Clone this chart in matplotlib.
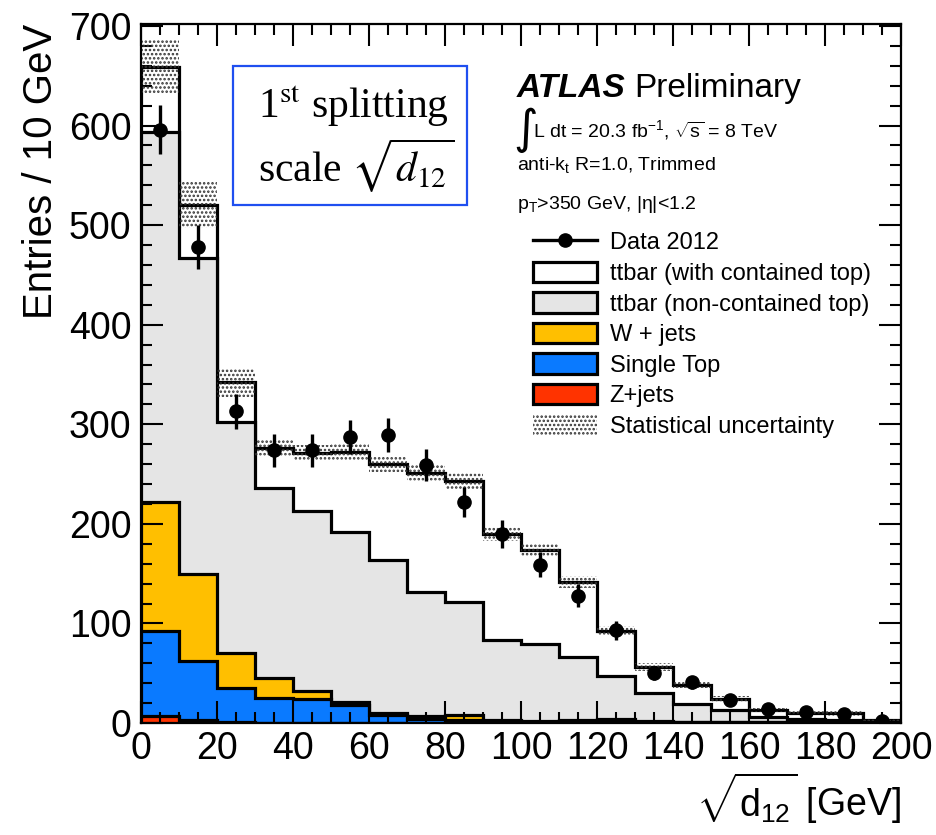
import numpy as np
import matplotlib
matplotlib.use("Agg")
import matplotlib.pyplot as plt
from matplotlib.patches import Patch, Rectangle
from matplotlib.lines import Line2D
from matplotlib.ticker import MultipleLocator

plt.rcParams['font.family'] = ['Liberation Sans', 'DejaVu Sans']
plt.rcParams['mathtext.fontset'] = 'custom'
plt.rcParams['mathtext.rm'] = 'Liberation Sans'
plt.rcParams['mathtext.it'] = 'Liberation Sans:italic'
plt.rcParams['mathtext.bf'] = 'Liberation Sans:bold'
plt.rcParams['hatch.linewidth'] = 1.2

# sqrt(d12) in 10 GeV bins
bin_edges = np.arange(0, 201, 10)

data_2012 = [596, 478, 313, 274, 274, 287, 289, 259, 222, 190,
             159, 128, 93, 50, 41, 23, 14, 11, 9, 2]

# MC components, bottom of the stack first
zjets = [7, 3, 1, 0.5, 0.5, 0.5, 0.3, 0.3, 0.3, 0.2,
         0.2, 0.2, 0.2, 0.1, 0.1, 0.1, 0.1, 0.1, 0.1, 0.1]
single_top = [85, 59, 34, 25, 24, 18, 8, 4, 3, 1.5,
              1, 1.5, 1.5, 1, 0.5, 0.5, 0.5, 0.3, 0.3, 0.2]
wjets = [130, 88, 35, 20, 8, 3, 2, 3, 5, 1,
         1, 1, 2, 1, 0.5, 0.5, 0.5, 0.5, 1, 0.5]
ttbar_noncontained = [372, 317, 232, 191, 180, 170, 153, 124, 113, 81,
                      77, 64, 43, 28, 18, 12, 5, 3, 1.6, 1.2]
ttbar_contained = [65, 53, 40, 40, 59, 81, 97, 120, 122, 106,
                   95, 75, 46, 26, 19, 11, 7, 6, 7, 1]
mc_stat_err = [27, 23, 15, 9, 8, 8, 8, 8, 8, 7,
               7, 6, 5, 4, 3, 3, 2, 2, 3, 1]

components = [zjets, single_top, wjets, ttbar_noncontained, ttbar_contained]
fill_colors = ['#ff3300', '#0a7aff', '#ffbf00', '#e5e5e5', 'white']
labels = ['Z+jets', 'Single Top', 'W + jets',
          'ttbar (non-contained top)', 'ttbar (with contained top)']

stack = np.cumsum(np.array(components, dtype=float), axis=0)
total = stack[-1]
centers = 0.5 * (bin_edges[:-1] + bin_edges[1:])
data = np.array(data_2012, dtype=float)

fig = plt.figure(figsize=(9.37, 8.35), dpi=100)
ax = fig.add_axes([141 / 937, 1 - 723 / 835, 760 / 937, 699 / 835])

# draw stack from the top down so each layer covers the one above it
for i in reversed(range(len(components))):
    ax.stairs(stack[i], bin_edges, fill=True, color=fill_colors[i], zorder=1 + (4 - i) * 0.1)
    ax.stairs(stack[i], bin_edges, color='k', lw=2.3, zorder=1.05 + (4 - i) * 0.1)

ax.bar(bin_edges[:-1], 2 * np.array(mc_stat_err), bottom=total - np.array(mc_stat_err),
       width=10, align='edge', fill=False, hatch='....', lw=0, edgecolor='0.2', zorder=2)

ax.errorbar(centers, data, yerr=np.sqrt(data), fmt='o', color='k', ms=9.5,
            elinewidth=2.4, capsize=0, zorder=3)

ax.set_xlim(0, 200)
ax.set_ylim(0, 702)
ax.xaxis.set_major_locator(MultipleLocator(20))
ax.xaxis.set_minor_locator(MultipleLocator(5))
ax.yaxis.set_major_locator(MultipleLocator(100))
ax.yaxis.set_minor_locator(MultipleLocator(20))
ax.tick_params(which='both', direction='in', top=True, right=True, width=1.5)
ax.tick_params(which='major', length=16, labelsize=27)
ax.tick_params(which='minor', length=8)
ax.tick_params(axis='x', pad=6)
ax.tick_params(axis='y', pad=7)
for s in ax.spines.values():
    s.set_linewidth(1.6)

ax.set_ylabel('Entries / 10 GeV', fontsize=29, loc='top', labelpad=6)
ax.set_xlabel(r'$\sqrt{\mathrm{d}_{12}}$ [GeV]', fontsize=27, loc='right', labelpad=2)

# labels
def ax_xy(px, py):
    return (px - 141) / 760, (723 - py) / 699

tx, ty = ax_xy(517, 97)
ax.text(tx, ty, 'ATLAS', transform=ax.transAxes, fontsize=24,
        fontweight='bold', fontstyle='italic', va='baseline')
tx, ty = ax_xy(634, 97)
ax.text(tx, ty, 'Preliminary', transform=ax.transAxes, fontsize=24, va='baseline')
tx, ty = ax_xy(513, 143)
ax.text(tx, ty, r'$\int$', transform=ax.transAxes, fontsize=24, va='baseline',
        math_fontfamily='dejavusans')
tx, ty = ax_xy(533, 137)
ax.text(tx, ty, r'L dt = 20.3 fb$^{\mathrm{-1}}$, $\sqrt{\mathrm{s}}$ = 8 TeV',
        transform=ax.transAxes, fontsize=14, va='baseline')
tx, ty = ax_xy(517, 170)
ax.text(tx, ty, r'anti-k$_{\mathrm{t}}$ R=1.0, Trimmed', transform=ax.transAxes,
        fontsize=14, va='baseline')
tx, ty = ax_xy(517, 209)
ax.text(tx, ty, r'p$_{\mathrm{T}}$>350 GeV, |$\mathrm{\eta}$|<1.2', transform=ax.transAxes,
        fontsize=14, va='baseline')

# boxed caption
bx0, by0 = ax_xy(233, 205)
bx1, by1 = ax_xy(467, 66)
ax.add_patch(Rectangle((bx0, by0), bx1 - bx0, by1 - by0, transform=ax.transAxes,
                       fill=True, facecolor='white', edgecolor='#1f4ff0', lw=1.6, zorder=4))
tx, ty = ax_xy(258, 118)
ax.text(tx, ty, r'1$^{\mathrm{st}}$ splitting', transform=ax.transAxes,
        fontsize=30, family='Liberation Serif', math_fontfamily='stix',
        va='baseline', zorder=5)
tx, ty = ax_xy(258, 182)
ax.text(tx, ty, r'scale $\sqrt{d_{12}}$', transform=ax.transAxes,
        fontsize=30, family='Liberation Serif', math_fontfamily='stix',
        va='baseline', zorder=5)

# legend
handles = [Line2D([], [], color='k', marker='o', ms=9.5, lw=2.4)]
for i in reversed(range(len(components))):
    handles.append(Patch(facecolor=fill_colors[i], edgecolor='k', lw=2.3))
handles.append(Patch(fill=False, hatch='....', lw=0, edgecolor='0.2'))
leg_labels = ['Data 2012'] + labels[::-1] + ['Statistical uncertainty']
lx, ly = ax_xy(533, 231)
ax.legend(handles, leg_labels, loc='upper left', bbox_to_anchor=(lx, ly),
          frameon=False, fontsize=17, borderpad=0, borderaxespad=0,
          handlelength=2.7, handleheight=0.95, labelspacing=0.31, handletextpad=0.55)

fig.savefig('out.png', dpi=100)
